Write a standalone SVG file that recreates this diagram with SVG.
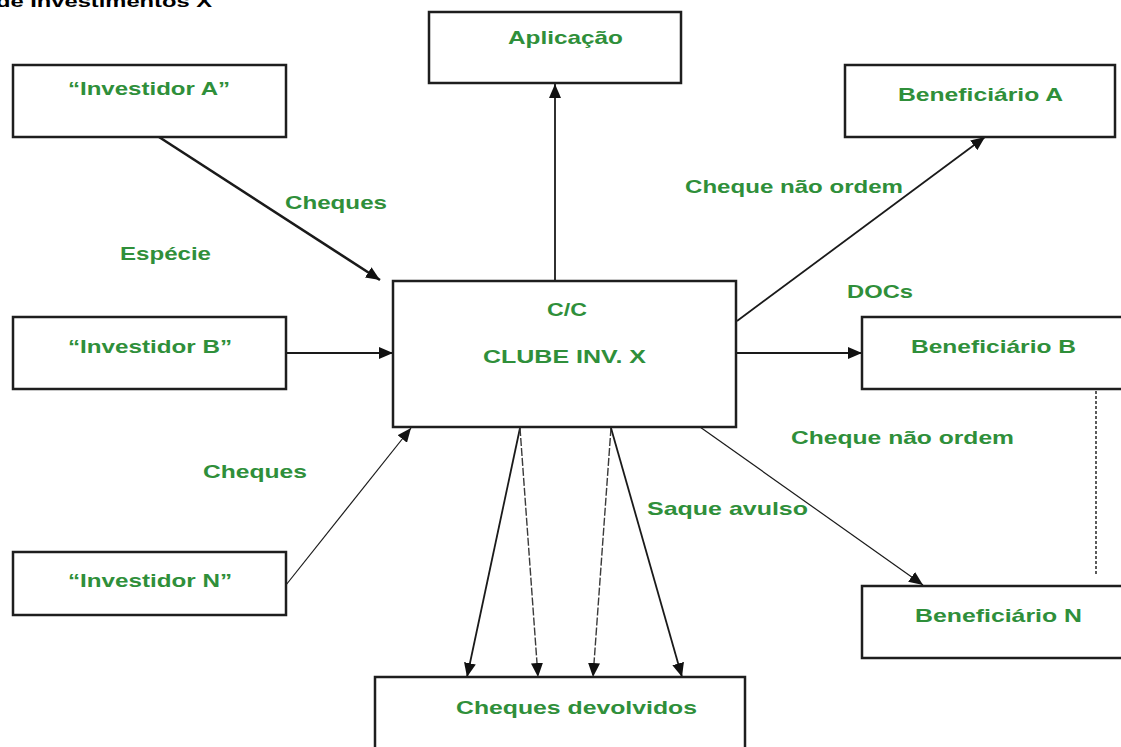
<svg xmlns="http://www.w3.org/2000/svg" width="1121" height="747" viewBox="0 0 1121 747">
  <style>
    .box { fill: #ffffff; stroke: #1e1e1e; stroke-width: 2.5; }
    .lbl { font-family: "Liberation Sans", Arial, sans-serif; font-weight: bold; font-size: 19px; fill: #2f8f3a; }
    .title { font-family: "Liberation Sans", Arial, sans-serif; font-weight: bold; font-size: 17px; fill: #000000; }
    .edge { fill: none; stroke: #1a1a1a; stroke-width: 1.8; }
    .thick { stroke-width: 2.6; }
    .thin { stroke-width: 1.2; }
    .dash { stroke: #3a3a3a; stroke-dasharray: 8 2; stroke-width: 1.4; }
    .dots { fill: none; stroke: #333333; stroke-width: 1.6; stroke-dasharray: 3 2; }
  </style>
  <defs>
    <marker id="arrow" viewBox="0 0 14 12" refX="14" refY="6" markerWidth="14" markerHeight="12" markerUnits="userSpaceOnUse" orient="auto">
      <path d="M0,0 L14,6 L0,12 Z" fill="#111111"/>
    </marker>
  </defs>
  <rect width="1121" height="747" fill="#ffffff"/>

  <!-- heading, partly above the top edge of the sheet -->
  <text class="title" x="-4" y="7" textLength="216" lengthAdjust="spacingAndGlyphs">de Investimentos X</text>

  <g id="connectors">
    <line class="edge" x1="555" y1="281" x2="555" y2="84" marker-end="url(#arrow)"/>
    <line class="edge thick" x1="159" y1="137" x2="380" y2="280" marker-end="url(#arrow)"/>
    <line class="edge" x1="286" y1="353" x2="393" y2="353" marker-end="url(#arrow)"/>
    <line class="edge thin" x1="286" y1="585" x2="411" y2="428" marker-end="url(#arrow)"/>
    <line class="edge" x1="737" y1="321" x2="985" y2="137" marker-end="url(#arrow)"/>
    <line class="edge" x1="736" y1="353" x2="862" y2="353" marker-end="url(#arrow)"/>
    <line class="edge thin" x1="700" y1="427" x2="923" y2="585" marker-end="url(#arrow)"/>
    <line class="edge" x1="520" y1="428" x2="467" y2="677" marker-end="url(#arrow)"/>
    <line class="edge dash" x1="520" y1="428" x2="538" y2="677" marker-end="url(#arrow)"/>
    <line class="edge dash" x1="611" y1="428" x2="593" y2="677" marker-end="url(#arrow)"/>
    <line class="edge" x1="611" y1="428" x2="682" y2="677" marker-end="url(#arrow)"/>
    <line class="dots" x1="1096" y1="391" x2="1096" y2="575"/>
  </g>

  <g id="labels">
    <text class="lbl" x="285" y="209" textLength="102" lengthAdjust="spacingAndGlyphs">Cheques</text>
    <text class="lbl" x="120" y="260" textLength="91" lengthAdjust="spacingAndGlyphs">Espécie</text>
    <text class="lbl" x="203" y="478" textLength="104" lengthAdjust="spacingAndGlyphs">Cheques</text>
    <text class="lbl" x="685" y="193" textLength="218" lengthAdjust="spacingAndGlyphs">Cheque não ordem</text>
    <text class="lbl" x="847" y="298" textLength="66" lengthAdjust="spacingAndGlyphs">DOCs</text>
    <text class="lbl" x="791" y="444" textLength="223" lengthAdjust="spacingAndGlyphs">Cheque não ordem</text>
    <text class="lbl" x="647" y="515" textLength="161" lengthAdjust="spacingAndGlyphs">Saque avulso</text>
  </g>

  <g id="aplicacao">
    <rect class="box" x="429" y="12" width="252" height="71"/>
    <text class="lbl" x="508" y="44" textLength="115" lengthAdjust="spacingAndGlyphs">Aplicação</text>
  </g>

  <g id="investidor-a">
    <rect class="box" x="13" y="65" width="273" height="72"/>
    <text class="lbl" x="68" y="95" textLength="162" lengthAdjust="spacingAndGlyphs">“Investidor A”</text>
  </g>

  <g id="investidor-b">
    <rect class="box" x="13" y="317" width="273" height="72"/>
    <text class="lbl" x="68" y="353" textLength="164" lengthAdjust="spacingAndGlyphs">“Investidor B”</text>
  </g>

  <g id="investidor-n">
    <rect class="box" x="13" y="552" width="273" height="63"/>
    <text class="lbl" x="68" y="587" textLength="164" lengthAdjust="spacingAndGlyphs">“Investidor N”</text>
  </g>

  <g id="clube">
    <rect class="box" x="393" y="281" width="343" height="146"/>
    <text class="lbl" x="547" y="316" textLength="40" lengthAdjust="spacingAndGlyphs">C/C</text>
    <text class="lbl" x="483" y="363" textLength="163" lengthAdjust="spacingAndGlyphs">CLUBE INV. X</text>
  </g>

  <g id="beneficiario-a">
    <rect class="box" x="845" y="65" width="270" height="72"/>
    <text class="lbl" x="898" y="101" textLength="165" lengthAdjust="spacingAndGlyphs">Beneficiário A</text>
  </g>

  <g id="beneficiario-b">
    <rect class="box" x="862" y="317" width="270" height="72"/>
    <text class="lbl" x="911" y="353" textLength="165" lengthAdjust="spacingAndGlyphs">Beneficiário B</text>
  </g>

  <g id="beneficiario-n">
    <rect class="box" x="862" y="586" width="270" height="72"/>
    <text class="lbl" x="915" y="622" textLength="167" lengthAdjust="spacingAndGlyphs">Beneficiário N</text>
  </g>

  <g id="cheques-devolvidos">
    <rect class="box" x="375" y="677" width="370" height="80"/>
    <text class="lbl" x="456" y="714" textLength="241" lengthAdjust="spacingAndGlyphs">Cheques devolvidos</text>
  </g>
</svg>
